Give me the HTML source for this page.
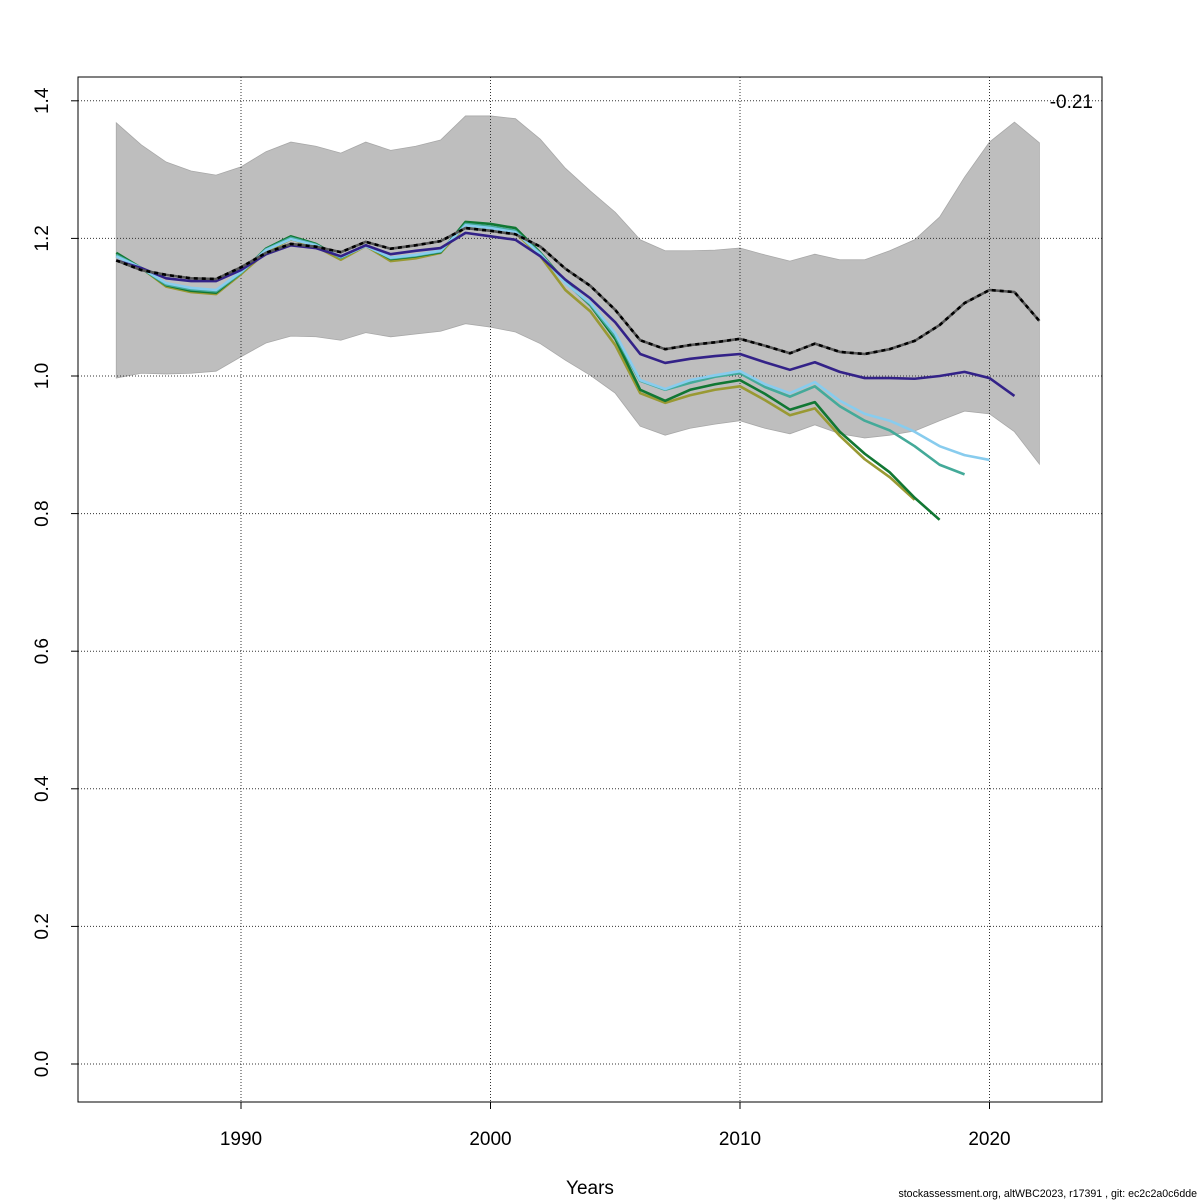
<!DOCTYPE html>
<html><head><meta charset="utf-8"><style>
html,body{margin:0;padding:0;background:#fff;width:1200px;height:1200px;overflow:hidden}
svg{display:block;font-family:"Liberation Sans",sans-serif}
</style></head><body>
<svg id="chart" width="1200" height="1200" viewBox="0 0 1200 1200" xmlns="http://www.w3.org/2000/svg"></svg>
<script>
const years = [];
for (let y = 1985; y <= 2022; y++) years.push(y);
const bandUpper = [1.368,1.336,1.311,1.298,1.292,1.304,1.326,1.340,1.334,1.324,1.340,1.328,1.334,1.343,1.378,1.378,1.374,1.344,1.302,1.269,1.238,1.198,1.182,1.182,1.183,1.186,1.176,1.167,1.177,1.169,1.169,1.182,1.198,1.231,1.289,1.340,1.369,1.339];
const bandLower = [0.997,1.004,1.003,1.004,1.007,1.028,1.048,1.058,1.057,1.052,1.063,1.057,1.061,1.065,1.076,1.071,1.064,1.047,1.023,1.001,0.975,0.927,0.914,0.924,0.930,0.935,0.924,0.916,0.929,0.916,0.910,0.914,0.920,0.935,0.949,0.945,0.919,0.872];
const ssbBase = [1.168,1.154,1.147,1.142,1.141,1.158,1.179,1.192,1.188,1.180,1.195,1.185,1.190,1.196,1.215,1.211,1.206,1.188,1.156,1.131,1.096,1.052,1.039,1.045,1.049,1.054,1.044,1.033,1.047,1.035,1.032,1.039,1.051,1.074,1.106,1.125,1.122,1.080];
const ssbPeel1 = [1.168,1.157,1.142,1.138,1.138,1.154,1.177,1.190,1.186,1.174,1.190,1.177,1.182,1.186,1.208,1.203,1.198,1.174,1.140,1.113,1.078,1.032,1.019,1.025,1.029,1.032,1.020,1.009,1.020,1.006,0.997,0.997,0.996,1.000,1.006,0.997,0.971];
const ssbPeel2 = [1.174,1.157,1.135,1.128,1.125,1.151,1.183,1.199,1.190,1.173,1.189,1.172,1.176,1.182,1.219,1.215,1.209,1.177,1.135,1.106,1.062,0.994,0.981,0.994,1.001,1.007,0.988,0.975,0.991,0.964,0.945,0.935,0.919,0.898,0.885,0.878];
const ssbPeel3 = [1.176,1.157,1.133,1.126,1.123,1.150,1.184,1.201,1.191,1.172,1.190,1.171,1.175,1.181,1.221,1.217,1.211,1.178,1.136,1.104,1.058,0.993,0.980,0.990,0.999,1.004,0.984,0.970,0.985,0.956,0.935,0.921,0.898,0.871,0.857];
const ssbPeel4 = [1.179,1.157,1.132,1.124,1.121,1.150,1.185,1.203,1.192,1.172,1.190,1.170,1.174,1.180,1.224,1.221,1.215,1.179,1.137,1.103,1.054,0.980,0.964,0.980,0.988,0.994,0.974,0.951,0.962,0.919,0.887,0.860,0.823,0.791];
const ssbPeel5 = [1.174,1.157,1.130,1.122,1.119,1.148,1.180,1.199,1.188,1.169,1.189,1.167,1.171,1.179,1.218,1.214,1.208,1.174,1.125,1.094,1.045,0.975,0.961,0.972,0.980,0.985,0.965,0.943,0.953,0.913,0.879,0.853,0.820];
const yTicks = [0.0,0.2,0.4,0.6,0.8,1.0,1.2,1.4];
const yTickLabels = ["0.0","0.2","0.4","0.6","0.8","1.0","1.2","1.4"];
const xTicks = [1990,2000,2010,2020];

const svg = document.getElementById('chart');
const NS = 'http://www.w3.org/2000/svg';
const L=78,R=1102,T=77,B=1102;
function xs(yr){return 241 + (yr-1990)*24.95;}
function ys(v){return 1064 - v*688;}
function mk(tag, attrs){const e=document.createElementNS(NS,tag);for(const k in attrs)e.setAttribute(k,attrs[k]);svg.appendChild(e);return e;}

let pts = years.map((y,i)=>xs(y)+','+ys(bandUpper[i]));
for (let i=years.length-1;i>=0;i--) pts.push(xs(years[i])+','+ys(bandLower[i]));
const band = mk('polygon',{points:pts.join(' '),fill:'#bebebe',stroke:'#a8a8a8','stroke-width':0.8});



yTicks.forEach((v,i)=>{
  const g=mk('line',{x1:L,x2:R,y1:ys(v),y2:ys(v),stroke:'#333','stroke-width':1,'stroke-dasharray':'1,2'});
  
  
  const t=mk('line',{x1:L-7,x2:L,y1:ys(v),y2:ys(v),stroke:'#000'});
  
  
  const lb=mk('text',{x:48,y:ys(v),'font-size':19,'text-anchor':'middle',transform:'rotate(-90 48 '+ys(v)+')'});
  lb.textContent=yTickLabels[i];
  
  
});
xTicks.forEach(yr=>{
  const g=mk('line',{x1:xs(yr),x2:xs(yr),y1:T,y2:B,stroke:'#333','stroke-width':1,'stroke-dasharray':'1,2'});
  
  
  const t=mk('line',{x1:xs(yr),x2:xs(yr),y1:B,y2:B+7,stroke:'#000'});
  
  
  const lb=mk('text',{x:xs(yr),y:1145,'font-size':19,'text-anchor':'middle'});
  lb.textContent=yr;
  
  
});

function line(data,color,name,dash){
  const p=data.map((v,i)=>xs(years[i])+','+ys(v)).join(' ');
  const attrs={points:p,fill:'none',stroke:color,'stroke-width':2.6,'stroke-linejoin':'round'};
  if(dash){attrs['stroke-dasharray']=dash;}
  const e=mk('polyline',attrs);
  
  
}
line(ssbPeel5,'#999933','ssb-peel-5');
line(ssbPeel4,'#117733','ssb-peel-4');
line(ssbPeel3,'#44AA99','ssb-peel-3');
line(ssbPeel2,'#88CCEE','ssb-peel-2');
line(ssbPeel1,'#332288','ssb-peel-1');
line(ssbBase,'#555','ssb-base-under');
line(ssbBase,'#000','ssb-base','4,4');

const frame=mk('rect',{x:L,y:T,width:R-L,height:B-T,fill:'none',stroke:'#000','stroke-width':1});



const rho=mk('text',{x:1093,y:108,'font-size':19,'text-anchor':'end'});
rho.textContent='-0.21';



const xt=mk('text',{x:590,y:1194,'font-size':19,'text-anchor':'middle'});
xt.textContent='Years';



const yt=mk('text',{x:-1,y:590,'font-size':19,'text-anchor':'middle',transform:'rotate(-90 -1 590)'});
yt.textContent='SSB';



const ft=mk('text',{x:1197,y:1197,'font-size':10.6,'text-anchor':'end'});
ft.textContent='stockassessment.org, altWBC2023, r17391 , git: ec2c2a0c6dde';


</script>
</body></html>
